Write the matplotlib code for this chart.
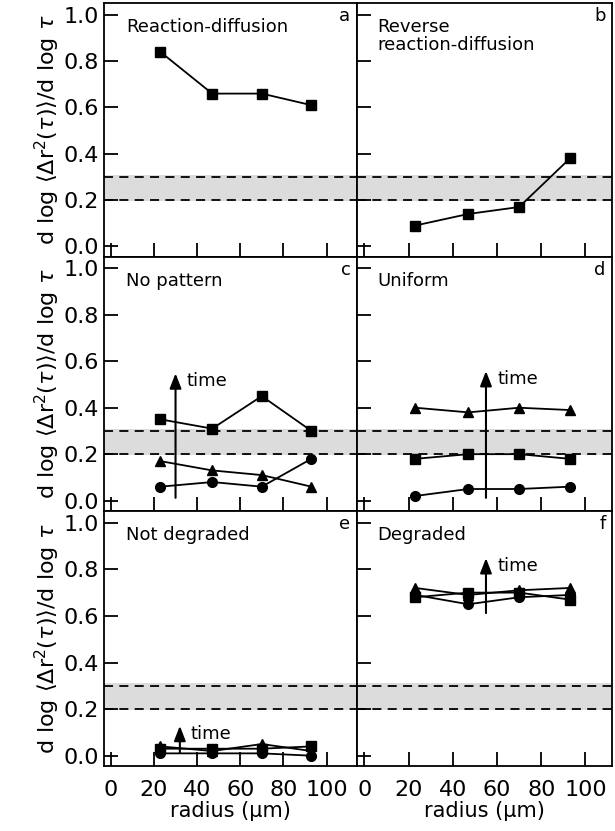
import matplotlib
matplotlib.use("Agg")
import matplotlib.pyplot as plt

plt.rcParams['font.family'] = ['DejaVu Sans']
plt.rcParams['mathtext.fontset'] = 'dejavusans'

radius = [23, 47, 70, 93]

# panel a / b : one series (squares)
a_sq = [0.84, 0.66, 0.66, 0.61]
b_sq = [0.09, 0.14, 0.17, 0.38]

# panel c
c_sq = [0.35, 0.31, 0.45, 0.30]
c_tri = [0.17, 0.13, 0.11, 0.06]
c_circ = [0.06, 0.08, 0.06, 0.18]

# panel d
d_tri = [0.40, 0.38, 0.40, 0.39]
d_sq = [0.18, 0.20, 0.20, 0.18]
d_circ = [0.02, 0.05, 0.05, 0.06]

# panel e
e_tri = [0.04, 0.02, 0.05, 0.02]
e_sq = [0.03, 0.03, 0.03, 0.04]
e_circ = [0.01, 0.01, 0.01, 0.00]

# panel f
f_tri = [0.72, 0.69, 0.71, 0.72]
f_sq = [0.68, 0.70, 0.70, 0.67]
f_circ = [0.69, 0.65, 0.68, 0.69]

titles = ["Reaction-diffusion", "Reverse\nreaction-diffusion",
          "No pattern", "Uniform", "Not degraded", "Degraded"]
letters = ["a", "b", "c", "d", "e", "f"]

# arrow (x, y start, y end) for "time" arrows
arrows = {2: (30, 0.0, 0.56), 3: (55, 0.0, 0.57), 4: (32, 0.0, 0.14), 5: (55, 0.6, 0.86)}

series = [
    [(a_sq, 's')],
    [(b_sq, 's')],
    [(c_sq, 's'), (c_tri, '^'), (c_circ, 'o')],
    [(d_tri, '^'), (d_sq, 's'), (d_circ, 'o')],
    [(e_tri, '^'), (e_sq, 's'), (e_circ, 'o')],
    [(f_tri, '^'), (f_sq, 's'), (f_circ, 'o')],
]

fig = plt.figure(figsize=(6.15, 8.31), dpi=100)
lefts = [0.169, 0.580]
w = [0.411, 0.415]
bottoms = [0.691, 0.385, 0.078]
h = [0.305, 0.306, 0.307]

ylab = r'd log $\langle\Delta\mathrm{r}^2(\tau)\rangle$/d log $\tau$'

for i in range(6):
    row, col = i // 2, i % 2
    ax = fig.add_axes([lefts[col], bottoms[row], w[col], h[row]])
    ax.axhspan(0.195, 0.31, color='#dcdcdc', lw=0, zorder=0)
    ax.axhline(0.2, color='k', ls=(0, (5, 3.5)), lw=1.3, zorder=1)
    ax.axhline(0.3, color='k', ls=(0, (5, 3.5)), lw=1.3, zorder=1)
    for ys, m in series[i]:
        ax.plot(radius, ys, color='k', marker=m, ms=7, lw=1.3, zorder=3)
    if i in arrows:
        xa, y0, y1 = arrows[i]
        ax.annotate('', xy=(xa, y1), xytext=(xa, y0),
                    arrowprops=dict(arrowstyle='-|>,head_width=0.35,head_length=0.9',
                                    color='k', lw=1.5), zorder=4)
        ax.text(xa + 5, y1 - 0.045, 'time', fontsize=13, va='center', ha='left')
    ax.text(7 if col == 0 else 6, 0.985, titles[i], fontsize=13, va='top', ha='left',
            linespacing=1.0)
    ax.text(0.975, 0.985, letters[i], transform=ax.transAxes, fontsize=13,
            va='top', ha='right')
    ax.set_ylim(-0.045, 1.05)
    if col == 0:
        ax.set_xlim(-3.2, 114)
    else:
        ax.set_xlim(-3.5, 112)
    ax.set_xticks([0, 20, 40, 60, 80, 100])
    ax.set_yticks([0.0, 0.2, 0.4, 0.6, 0.8, 1.0])
    ax.tick_params(direction='in', length=10, width=1.3, labelsize=16)
    if col == 0:
        ax.set_yticklabels(['0.0', '0.2', '0.4', '0.6', '0.8', '1.0'])
        ax.set_ylabel(ylab, fontsize=16, labelpad=1)
    else:
        ax.set_yticklabels([])
    if row == 2:
        ax.set_xlabel('radius (µm)', fontsize=15, labelpad=1)
        ax.tick_params(axis='x', pad=10)
    else:
        ax.set_xticklabels([])
    for s in ax.spines.values():
        s.set_linewidth(1.3)

fig.savefig('out.png', dpi=100)
